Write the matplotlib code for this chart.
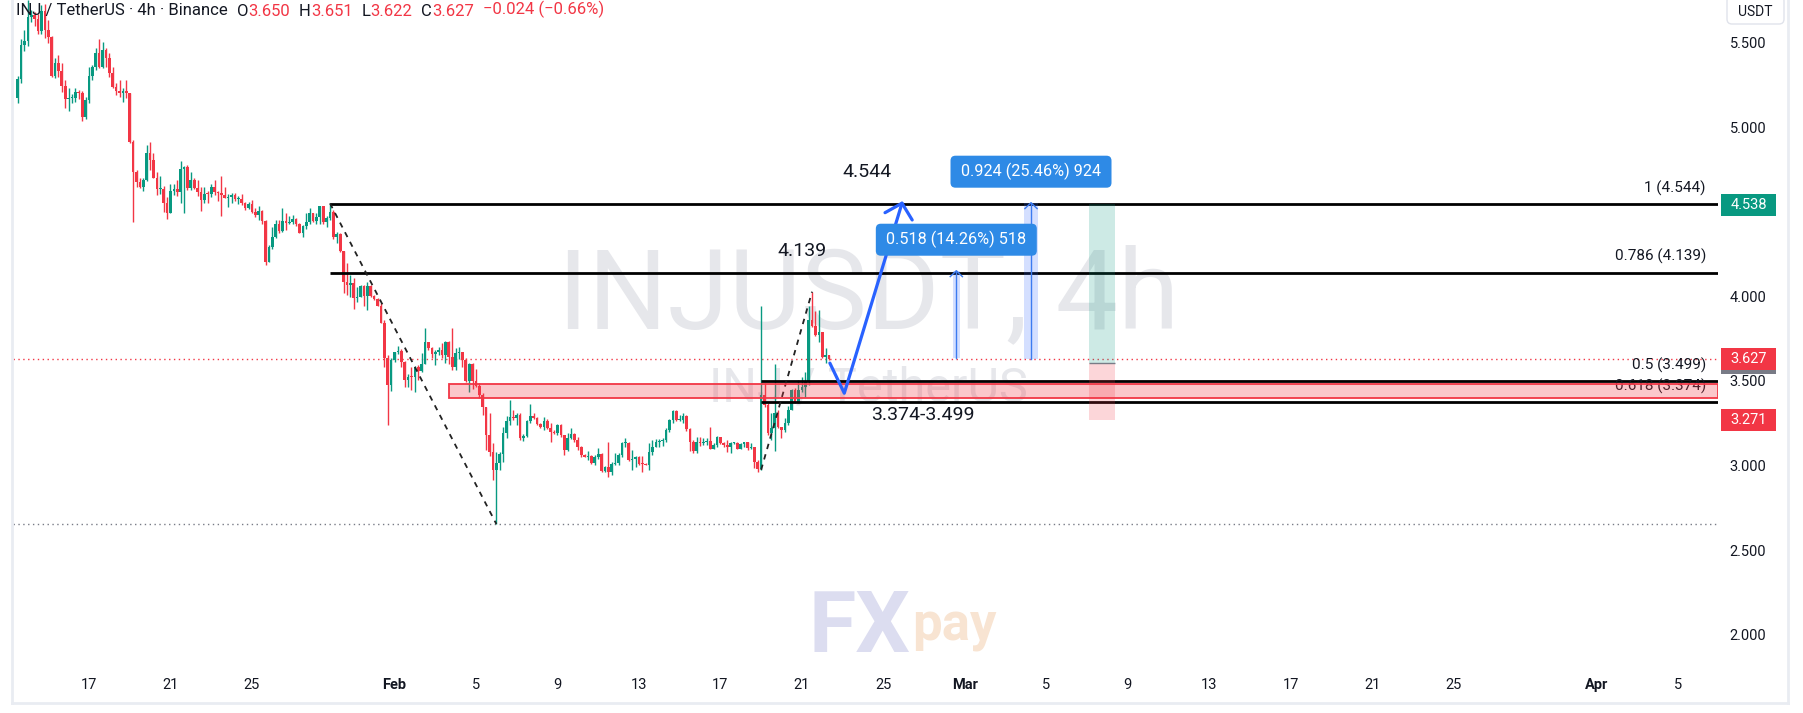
import matplotlib
matplotlib.use("Agg")
import matplotlib.pyplot as plt
import matplotlib.dates as mdates
import matplotlib.transforms as mtransforms
from matplotlib.patches import Rectangle, FancyBboxPatch
from matplotlib.lines import Line2D
import numpy as np
import pandas as pd

plt.rcParams['font.family'] = ['Roboto', 'DejaVu Sans']

UP = '#089981'
DOWN = '#F23645'
TXT = '#131722'
BLUE = '#2962FF'

# INJ/USDT 4h candles (first bar Jan 13 12:00)
start = '2025-01-13 12:00'
first_open = 5.174
closes = [5.284, 5.485, 5.511, 5.653, 5.665, 5.637, 5.57, 5.686, 5.575, 5.53,
          5.30, 5.38, 5.333, 5.243, 5.166, 5.17, 5.17, 5.21, 5.20, 5.06,
          5.16, 5.30, 5.357, 5.44, 5.357, 5.455, 5.406, 5.32, 5.235, 5.215,
          5.20, 5.215, 5.20, 4.914, 4.736, 4.677, 4.644, 4.687, 4.845, 4.806,
          4.70, 4.632, 4.634, 4.55, 4.494, 4.622, 4.632, 4.618, 4.75, 4.762,
          4.642, 4.687, 4.642, 4.618, 4.569, 4.605, 4.603, 4.648, 4.618, 4.61,
          4.60, 4.582, 4.584, 4.597, 4.573, 4.577, 4.55, 4.52, 4.545, 4.50,
          4.48, 4.506, 4.447, 4.205, 4.293, 4.353, 4.425, 4.388, 4.445, 4.435,
          4.44, 4.455, 4.427, 4.376, 4.415, 4.441, 4.49, 4.447, 4.47, 4.533,
          4.441, 4.46, 4.50, 4.348, 4.368, 4.27, 4.086, 4.066, 4.076, 3.988,
          3.998, 4.06, 4.0, 4.06, 4.0, 3.982, 3.942, 3.844, 3.633, 3.475,
          3.623, 3.668, 3.676, 3.613, 3.505, 3.525, 3.52, 3.58, 3.56, 3.60,
          3.728, 3.692, 3.66, 3.673, 3.683, 3.653, 3.728, 3.639, 3.584, 3.663,
          3.673, 3.623, 3.501, 3.60, 3.501, 3.47, 3.416, 3.344, 3.18, 3.081,
          2.973, 3.013, 3.068, 3.194, 3.265, 3.288, 3.282, 3.298, 3.16, 3.175,
          3.26, 3.292, 3.28, 3.243, 3.225, 3.265, 3.22, 3.20, 3.19, 3.24,
          3.18, 3.09, 3.16, 3.186, 3.151, 3.112, 3.062, 3.052, 3.054, 3.017,
          3.052, 3.068, 2.97, 2.993, 2.964, 3.01, 3.013, 3.062, 3.131, 3.135,
          3.033, 3.037, 3.052, 3.01, 3.008, 3.005, 3.08, 3.11, 3.14, 3.147,
          3.151, 3.21, 3.27, 3.319, 3.27, 3.27, 3.293, 3.214, 3.14, 3.088,
          3.14, 3.13, 3.14, 3.145, 3.10, 3.12, 3.167, 3.131, 3.12, 3.11,
          3.13, 3.135, 3.10, 3.125, 3.141, 3.102, 3.11, 3.023, 2.977, 3.417,
          3.358, 3.19, 3.22, 3.308, 3.23, 3.21, 3.253, 3.33, 3.446, 3.377,
          3.446, 3.466, 3.50, 3.86, 3.826, 3.771, 3.79, 3.643, 3.653, 3.627]
highs = [5.302, 5.518, 5.574, 5.75, 5.69, 5.68, 5.67, 5.72, 5.73, 5.63,
         5.54, 5.406, 5.426, 5.377, 5.278, 5.23, 5.195, 5.23, 5.22, 5.215,
         5.18, 5.357, 5.367, 5.465, 5.52, 5.50, 5.465, 5.436, 5.357, 5.26,
         5.28, 5.23, 5.28, 5.20, 4.924, 4.746, 4.70, 4.697, 4.894, 4.914,
         4.845, 4.737, 4.71, 4.652, 4.585, 4.664, 4.664, 4.687, 4.80, 4.77,
         4.776, 4.737, 4.697, 4.69, 4.648, 4.644, 4.62, 4.664, 4.687, 4.625,
         4.711, 4.648, 4.605, 4.609, 4.609, 4.59, 4.605, 4.56, 4.56, 4.569,
         4.52, 4.534, 4.51, 4.451, 4.303, 4.41, 4.451, 4.451, 4.52, 4.49,
         4.475, 4.48, 4.46, 4.435, 4.42, 4.494, 4.52, 4.49, 4.49, 4.535,
         4.535, 4.475, 4.549, 4.51, 4.38, 4.372, 4.27, 4.195, 4.125, 4.106,
         4.056, 4.066, 4.066, 4.086, 4.066, 4.007, 3.99, 3.958, 3.86, 3.65,
         3.633, 3.672, 3.706, 3.69, 3.62, 3.54, 3.584, 3.59, 3.594, 3.662,
         3.81, 3.732, 3.70, 3.68, 3.70, 3.726, 3.738, 3.738, 3.81, 3.692,
         3.702, 3.673, 3.633, 3.608, 3.604, 3.568, 3.485, 3.426, 3.344, 3.308,
         3.13, 3.08, 3.08, 3.23, 3.29, 3.387, 3.33, 3.308, 3.308, 3.186,
         3.27, 3.363, 3.308, 3.288, 3.25, 3.285, 3.275, 3.25, 3.21, 3.245,
         3.245, 3.18, 3.19, 3.22, 3.19, 3.17, 3.115, 3.07, 3.088, 3.06,
         3.062, 3.102, 3.076, 2.997, 3.14, 3.023, 3.072, 3.076, 3.141, 3.16,
         3.141, 3.092, 3.056, 3.056, 3.056, 3.015, 3.13, 3.151, 3.155, 3.155,
         3.16, 3.22, 3.273, 3.325, 3.325, 3.30, 3.31, 3.30, 3.22, 3.15,
         3.17, 3.17, 3.16, 3.165, 3.23, 3.13, 3.175, 3.17, 3.14, 3.15,
         3.14, 3.14, 3.14, 3.135, 3.141, 3.141, 3.13, 3.102, 3.03, 3.944,
         3.486, 3.368, 3.31, 3.60, 3.328, 3.23, 3.28, 3.35, 3.45, 3.456,
         3.505, 3.525, 3.554, 3.94, 4.027, 3.91, 3.92, 3.785, 3.692, 3.651]
lows = [5.14, 5.262, 5.452, 5.48, 5.62, 5.60, 5.55, 5.55, 5.525, 5.495,
        5.294, 5.288, 5.298, 5.21, 5.111, 5.097, 5.14, 5.15, 5.165, 5.038,
        5.05, 5.14, 5.28, 5.337, 5.347, 5.347, 5.357, 5.298, 5.229, 5.19,
        5.18, 5.15, 5.17, 4.904, 4.441, 4.648, 4.638, 4.624, 4.68, 4.746,
        4.697, 4.599, 4.605, 4.50, 4.459, 4.49, 4.60, 4.593, 4.55, 4.49,
        4.628, 4.628, 4.632, 4.59, 4.506, 4.55, 4.553, 4.589, 4.60, 4.565,
        4.475, 4.579, 4.53, 4.55, 4.565, 4.545, 4.54, 4.51, 4.515, 4.494,
        4.47, 4.451, 4.427, 4.185, 4.20, 4.28, 4.345, 4.372, 4.38, 4.392,
        4.425, 4.43, 4.415, 4.372, 4.352, 4.395, 4.43, 4.44, 4.43, 4.43,
        4.43, 4.41, 4.45, 4.336, 4.312, 4.263, 4.017, 4.007, 3.998, 3.923,
        3.968, 3.994, 3.942, 3.919, 3.994, 3.978, 3.94, 3.84, 3.584, 3.239,
        3.442, 3.61, 3.66, 3.584, 3.462, 3.465, 3.446, 3.436, 3.505, 3.554,
        3.60, 3.682, 3.634, 3.594, 3.65, 3.633, 3.604, 3.60, 3.564, 3.564,
        3.627, 3.584, 3.495, 3.436, 3.45, 3.462, 3.397, 3.30, 3.09, 3.056,
        2.914, 2.654, 2.973, 3.022, 3.16, 3.24, 3.27, 3.24, 3.15, 3.147,
        3.166, 3.25, 3.273, 3.239, 3.22, 3.21, 3.214, 3.14, 3.186, 3.18,
        3.17, 3.062, 3.088, 3.155, 3.141, 3.092, 3.048, 3.048, 3.033, 3.01,
        3.003, 3.037, 2.964, 2.964, 2.934, 2.944, 3.003, 3.003, 3.052, 3.112,
        3.029, 2.974, 2.993, 3.003, 2.964, 3.0, 2.974, 3.063, 3.108, 3.108,
        3.116, 3.141, 3.20, 3.25, 3.26, 3.26, 3.253, 3.206, 3.088, 3.076,
        3.072, 3.116, 3.12, 3.12, 3.10, 3.095, 3.11, 3.127, 3.11, 3.08,
        3.075, 3.125, 3.095, 3.095, 3.11, 3.092, 3.10, 2.983, 2.964, 2.974,
        3.348, 3.18, 3.15, 3.088, 3.22, 3.16, 3.20, 3.24, 3.33, 3.367,
        3.372, 3.436, 3.407, 3.476, 3.82, 3.765, 3.732, 3.634, 3.604, 3.622]

view_start = '2025-01-13 06:00'
view_end = '2025-04-06 23:30'
price_range = (1.803, 5.751)

tick_dates = ['2025-01-17', '2025-01-21', '2025-01-25', '2025-02-01', '2025-02-05',
              '2025-02-09', '2025-02-13', '2025-02-17', '2025-02-21', '2025-02-25',
              '2025-03-01', '2025-03-05', '2025-03-09', '2025-03-13', '2025-03-17',
              '2025-03-21', '2025-03-25', '2025-04-01', '2025-04-05']
tick_labels = ['17', '21', '25', 'Feb', '5', '9', '13', '17', '21', '25',
               'Mar', '5', '9', '13', '17', '21', '25', 'Apr', '5']
price_ticks = [2.0, 2.5, 3.0, 3.5, 4.0, 5.0, 5.5]

last_price = 3.627
swing_low = 2.654

# fib drawings
fib1_start = '2025-01-28 20:00'
fib1_end = '2025-02-06 00:00'
fib1_trend = [4.549, 2.654]
fib1_levels = [4.544, 4.139]
fib1_labels = ['1 (4.544)', '0.786 (4.139)']
fib2_start = '2025-02-19 00:00'
fib2_end = '2025-02-21 12:00'
fib2_trend = [2.974, 4.027]
fib2_levels = [3.499, 3.374]
fib2_labels = ['0.5 (3.499)', '0.618 (3.374)']

zone_start = '2025-02-03 16:00'
zone = [3.397, 3.482]

# projected path
path_times = ['2025-02-22 09:00', '2025-02-23 02:00', '2025-02-25 22:00']
path_prices = [3.605, 3.427, 4.55]
head_times = ['2025-02-25 02:00', '2025-02-25 22:00', '2025-02-26 10:00']
head_prices = [4.494, 4.55, 4.451]

notes = ['4.544', '4.139', '3.374-3.499']
note_times = ['2025-02-24 05:00', '2025-02-21 00:00', '2025-02-26 23:00']
note_prices = [4.732, 4.27, 3.298]

# price range tools
range_centers = ['2025-02-28 14:00', '2025-03-04 06:00']
range_widths = [0.34, 0.69]
range_base = [3.633, 3.629]
range_top = [4.151, 4.553]
range_labels = ['0.518 (14.26%) 518', '0.924 (25.46%) 924']

# long position tool
pos_start = '2025-03-07 02:00'
pos_end = '2025-03-08 09:00'
pos_entry = 3.604
pos_target = 4.544
pos_stop = 3.271

axis_marks = [4.538, 3.627, 3.271]
axis_mark_colors = [UP, DOWN, DOWN]

ohlc_keys = ['O', 'H', 'L', 'C']
ohlc_vals = ['3.650', '3.651', '3.622', '3.627']
change_txt = '\u22120.024 (\u22120.66%)'


def d(s):
    return mdates.date2num(pd.Timestamp(s))


W, H = 1803, 713
fig = plt.figure(figsize=(W / 100, H / 100), dpi=100)
ax = fig.add_axes([12.6 / W, (H - 668) / H, (1718 - 12.6) / W, 668 / H])
ax.set_xlim(d(view_start), d(view_end))
ax.set_ylim(*price_range)
for s in ax.spines.values():
    s.set_visible(False)
x_right = d(view_end)
pix = mtransforms.IdentityTransform()

# watermark
ax.text(0.502, 0.555, 'INJUSDT, 4h', transform=ax.transAxes, ha='center', va='center',
        fontsize=80, color='#E6E7EB', zorder=0)
ax.text(0.502, 0.418, 'INJ / TetherUS', transform=ax.transAxes, ha='center', va='center',
        fontsize=35, color='#E6E7EB', zorder=0)

# candles
t = mdates.date2num(pd.date_range(start, periods=len(closes), freq='4h'))
c = np.array(closes)
o = np.r_[first_open, c[:-1]]
hi = np.maximum(np.array(highs), np.maximum(o, c))
lo = np.minimum(np.array(lows), np.minimum(o, c))
col = np.where(c >= o, UP, DOWN)
ax.vlines(t, lo, hi, colors=col, lw=1, zorder=3)
ax.bar(t, np.maximum(np.abs(c - o), 0.006), bottom=np.minimum(o, c), width=0.13,
       color=col, linewidth=0, zorder=3)

# dotted reference lines
ax.axhline(last_price, color=DOWN, ls=(0, (1, 2.5)), lw=1, zorder=2)
ax.axhline(swing_low, color='#787B86', ls=(0, (1, 2.5)), lw=1, zorder=2)

# supply/demand zone
ax.add_patch(Rectangle((d(zone_start), zone[0]), x_right - d(zone_start), zone[1] - zone[0],
                       facecolor=(0.949, 0.212, 0.271, 0.28), edgecolor=DOWN, lw=1.3, zorder=5))

# fib levels
for start_t, levels, labels in [(fib1_start, fib1_levels, fib1_labels),
                                (fib2_start, fib2_levels, fib2_labels)]:
    for lv, lb in zip(levels, labels):
        ax.hlines(lv, d(start_t), x_right, color='black', lw=2, zorder=4)
        ax.annotate(lb, xy=(x_right, lv), xytext=(-12, 16), textcoords='offset pixels',
                    ha='right', va='center', fontsize=11, color=TXT, zorder=4)
ax.plot([d(fib1_start), d(fib1_end)], fib1_trend, color='#222', ls=(0, (3, 3)), lw=1.3, zorder=4)
ax.plot([d(fib2_start), d(fib2_end)], fib2_trend, color='#222', ls=(0, (3, 3)), lw=1.3, zorder=4)

# projected path
ax.plot([d(s) for s in path_times], path_prices, color=BLUE, lw=2.3, zorder=6,
        solid_capstyle='round', solid_joinstyle='round')
ax.plot([d(s) for s in head_times], head_prices, color=BLUE, lw=2.3, zorder=6,
        solid_capstyle='round', solid_joinstyle='round')

for txt, tt, pp in zip(notes, note_times, note_prices):
    ax.text(d(tt), pp, txt, ha='center', va='center', fontsize=14, color=TXT, zorder=6)

# price ranges
for ct, wd, b0, b1, lb in zip(range_centers, range_widths, range_base, range_top, range_labels):
    xc = d(ct)
    ax.add_patch(Rectangle((xc - wd / 2, b0), wd, b1 - b0, facecolor=BLUE, alpha=0.2,
                           linewidth=0, zorder=5))
    ax.plot([xc, xc], [b0, b1], color='#3C7BF0', lw=1, zorder=5)
    ax.plot([xc - 0.3, xc, xc + 0.3], [b1 - 0.035, b1, b1 - 0.035], color='#3C7BF0', lw=1, zorder=5)
    px, py = ax.transData.transform((xc, b1))
    py += 31
    fig.patches.append(FancyBboxPatch((px - 80.5, py - 16), 161, 32,
                                      boxstyle='round,pad=0,rounding_size=5', transform=pix,
                                      facecolor='#2E8AE6', edgecolor='none', zorder=7))
    fig.text(px, py, lb, transform=pix, ha='center', va='center', fontsize=11.7,
             color='white', zorder=8)

# long position
ax.add_patch(Rectangle((d(pos_start), pos_entry), d(pos_end) - d(pos_start), pos_target - pos_entry,
                       facecolor=UP, alpha=0.2, linewidth=0, zorder=5))
ax.add_patch(Rectangle((d(pos_start), pos_stop), d(pos_end) - d(pos_start), pos_entry - pos_stop,
                       facecolor=DOWN, alpha=0.2, linewidth=0, zorder=5))
ax.hlines(pos_entry, d(pos_start), d(pos_end), color='#787B86', lw=1, zorder=5)

# axes ticks
ax.yaxis.tick_right()
ax.set_yticks(price_ticks)
ax.set_yticklabels([f'{v:.3f}' for v in price_ticks])
ax.tick_params(axis='y', length=0, pad=8.5, labelsize=10.5, labelcolor=TXT)
ax.set_xticks([d(s) for s in tick_dates])
ax.set_xticklabels(tick_labels)
ax.tick_params(axis='x', length=0, pad=7, labelsize=10.5, labelcolor=TXT)
for lbl in ax.get_xticklabels():
    if not lbl.get_text().isdigit():
        lbl.set_fontweight('bold')

# price axis markers
bt = mtransforms.blended_transform_factory(fig.transFigure, ax.transData)
hh = 11 / 169.2
for p, cc in zip(axis_marks, axis_mark_colors):
    ax.add_patch(Rectangle((1721 / W, p - hh), 55 / W, 2 * hh, transform=bt, facecolor=cc,
                           linewidth=0, clip_on=False, zorder=8))
    ax.text(1748.5 / W, p, f'{p:.3f}', transform=bt, ha='center', va='center',
            fontsize=10.5, color='white', clip_on=False, zorder=9)
ax.add_patch(Rectangle((1721 / W, last_price - hh - 0.022), 55 / W, 0.022, transform=bt,
                       facecolor='#787B86', linewidth=0, clip_on=False, zorder=8))

# frame
for xs, ys in [([12, 12], [0, 703]), ([12, 1788], [703, 703]), ([1788, 1788], [0, 703])]:
    fig.add_artist(Line2D(xs, [H - y for y in ys], transform=pix, color='#E9ECF2', lw=2))
fig.patches.append(FancyBboxPatch((1727, H - 24), 57, 28, boxstyle='round,pad=0,rounding_size=5',
                                  transform=pix, facecolor='white', edgecolor='#E0E3EB', lw=1))
fig.text(1755.5, H - 12, 'USDT', transform=pix, ha='center', va='center', fontsize=10, color=TXT)

# title legend
prev = fig.text(16 / W, 1 - 11 / H, 'INJ / TetherUS \u00b7 4h \u00b7 Binance', ha='left', va='center',
                fontsize=12, color=TXT)
for k, v in zip(ohlc_keys, ohlc_vals):
    prev = ax.annotate(k, xy=(1, 0), xycoords=prev, xytext=(9, 0), textcoords='offset pixels',
                       ha='left', va='bottom', fontsize=12, color=TXT, annotation_clip=False)
    prev = ax.annotate(v, xy=(1, 0), xycoords=prev, xytext=(0, 0), textcoords='offset pixels',
                       ha='left', va='bottom', fontsize=12, color=DOWN, annotation_clip=False)
ax.annotate(change_txt, xy=(1, 0), xycoords=prev, xytext=(9, 0), textcoords='offset pixels',
            ha='left', va='bottom', fontsize=12, color=DOWN, annotation_clip=False)

# logo
fig.text(808, H - 652, 'FX', transform=pix, ha='left', va='baseline', fontsize=62,
         fontweight='bold', color='#DCDDF0', zorder=1)
fig.text(912, H - 640, 'pay', transform=pix, ha='left', va='baseline', fontsize=38,
         fontweight='bold', color='#F8E4D2', zorder=1)

fig.savefig('out.png', dpi=100, facecolor='white')
